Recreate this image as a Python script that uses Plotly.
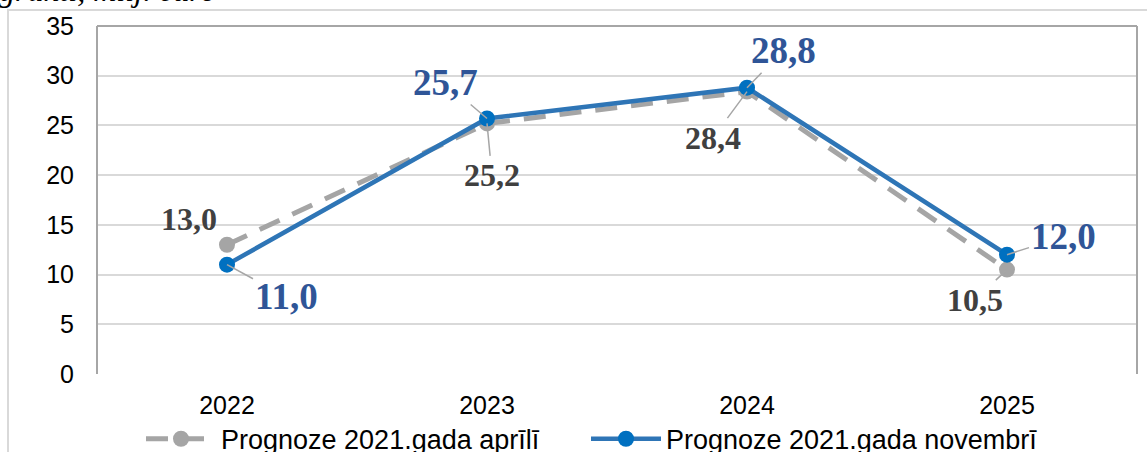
import plotly.graph_objects as go

years = [2022, 2023, 2024, 2025]
year_labels = ["2022", "2023", "2024", "2025"]
april = [13.0, 25.2, 28.4, 10.5]
november = [11.0, 25.7, 28.8, 12.0]
april_labels = ["13,0", "25,2", "28,4", "10,5"]
november_labels = ["11,0", "25,7", "28,8", "12,0"]
series_names = ["Prognoze 2021.gada aprīlī", "Prognoze 2021.gada novembrī"]
y_ticks = [0, 5, 10, 15, 20, 25, 30, 35]
title_text = "granti, milj. euro"

W, H = 1147, 452
L, R, T, B = 97, 10, 26, 78

fig = go.Figure()
fig.add_trace(go.Scatter(
    x=years, y=april, name=series_names[0], mode="lines+markers",
    line=dict(color="#A5A5A5", width=5, dash="22px,14px"),
    marker=dict(color="#A5A5A5", size=16), legend="legend",
))
fig.add_trace(go.Scatter(
    x=years, y=november, name=series_names[1], mode="lines+markers",
    line=dict(color="#2E75B6", width=4.5),
    marker=dict(color="#0070C0", size=16), legend="legend2",
))

gray_font = dict(family="Liberation Serif", size=32, color="#404040", weight="bold")
blue_font = dict(family="Liberation Serif", size=37, color="#2F5597", weight="bold")

# label offsets (pixels) relative to the data point
april_off = [(-38, -26, False), (5, 52, True), (-34, 46, True), (-32, 30, True)]
nov_off = [(59, 32, True), (-42, -36, True), (36, -37, True), (56, -18, True)]

for yr, v, lab, (dx, dy, arr) in zip(years, april, april_labels, april_off):
    if arr:
        fig.add_annotation(x=yr, y=v, text=lab, font=gray_font, showarrow=True,
                           ax=dx, ay=dy, arrowhead=0, arrowwidth=1.5,
                           arrowcolor="#A6A6A6", standoff=0)
    else:
        fig.add_annotation(x=yr, y=v, text=lab, font=gray_font, showarrow=False,
                           xshift=dx, yshift=-dy)
for yr, v, lab, (dx, dy, arr) in zip(years, november, november_labels, nov_off):
    fig.add_annotation(x=yr, y=v, text=lab, font=blue_font, showarrow=True,
                       ax=dx, ay=dy, arrowhead=0, arrowwidth=1.5,
                       arrowcolor="#A6A6A6", standoff=0)

pw = W - L - R
ph = H - T - B

# cut-off italic title at the very top
fig.add_annotation(xref="paper", yref="paper", x=(-3 - L) / pw, y=1 + (T - 10) / ph,
                   xanchor="left", yanchor="bottom", showarrow=False,
                   text=title_text,
                   font=dict(family="Liberation Serif", size=32, color="#000000", style="italic"))

# outer chart border
fig.add_shape(type="rect", xref="paper", yref="paper",
              x0=(8 - L) / pw, x1=(W + 20 - L) / pw,
              y0=-(B + 20) / ph, y1=1 + (T - 10) / ph,
              line=dict(color="#D9D9D9", width=2), layer="above")
# plot area border: left, top, right
for x0, y0, x1, y1 in [(0, 0, 0, 1), (0, 1, 1, 1), (1, 0, 1, 1)]:
    fig.add_shape(type="line", xref="paper", yref="paper", x0=x0, y0=y0, x1=x1, y1=y1,
                  line=dict(color="#A6A6A6", width=2))

legend_common = dict(orientation="h", xanchor="left", y=-0.117, yanchor="top",
                     font=dict(family="Liberation Sans", size=27, color="#000000"),
                     itemwidth=70, bgcolor="rgba(0,0,0,0)")

fig.update_layout(
    width=W, height=H,
    margin=dict(l=L, r=R, t=T, b=B, autoexpand=False),
    paper_bgcolor="white", plot_bgcolor="white",
    showlegend=True,
    legend=dict(x=(141 - L) / pw, **legend_common),
    legend2=dict(x=(586 - L) / pw, **legend_common),
    xaxis=dict(range=[2021.5, 2025.5], tickvals=years, ticktext=year_labels,
               showgrid=False, showline=False, ticks="", zeroline=False,
               automargin=False,
               tickfont=dict(family="Liberation Sans", size=25, color="#000000"),
               ticklabelstandoff=14),
    yaxis=dict(range=[0, 35], tickvals=y_ticks, showgrid=True, gridcolor="#D9D9D9",
               gridwidth=2, zeroline=False, showline=False, ticks="", automargin=False,
               tickfont=dict(family="Liberation Sans", size=25, color="#000000"),
               ticklabelstandoff=22),
)

fig.write_html("out.html", config={"displayModeBar": False},
               post_script="document.body.style.margin='0';")
